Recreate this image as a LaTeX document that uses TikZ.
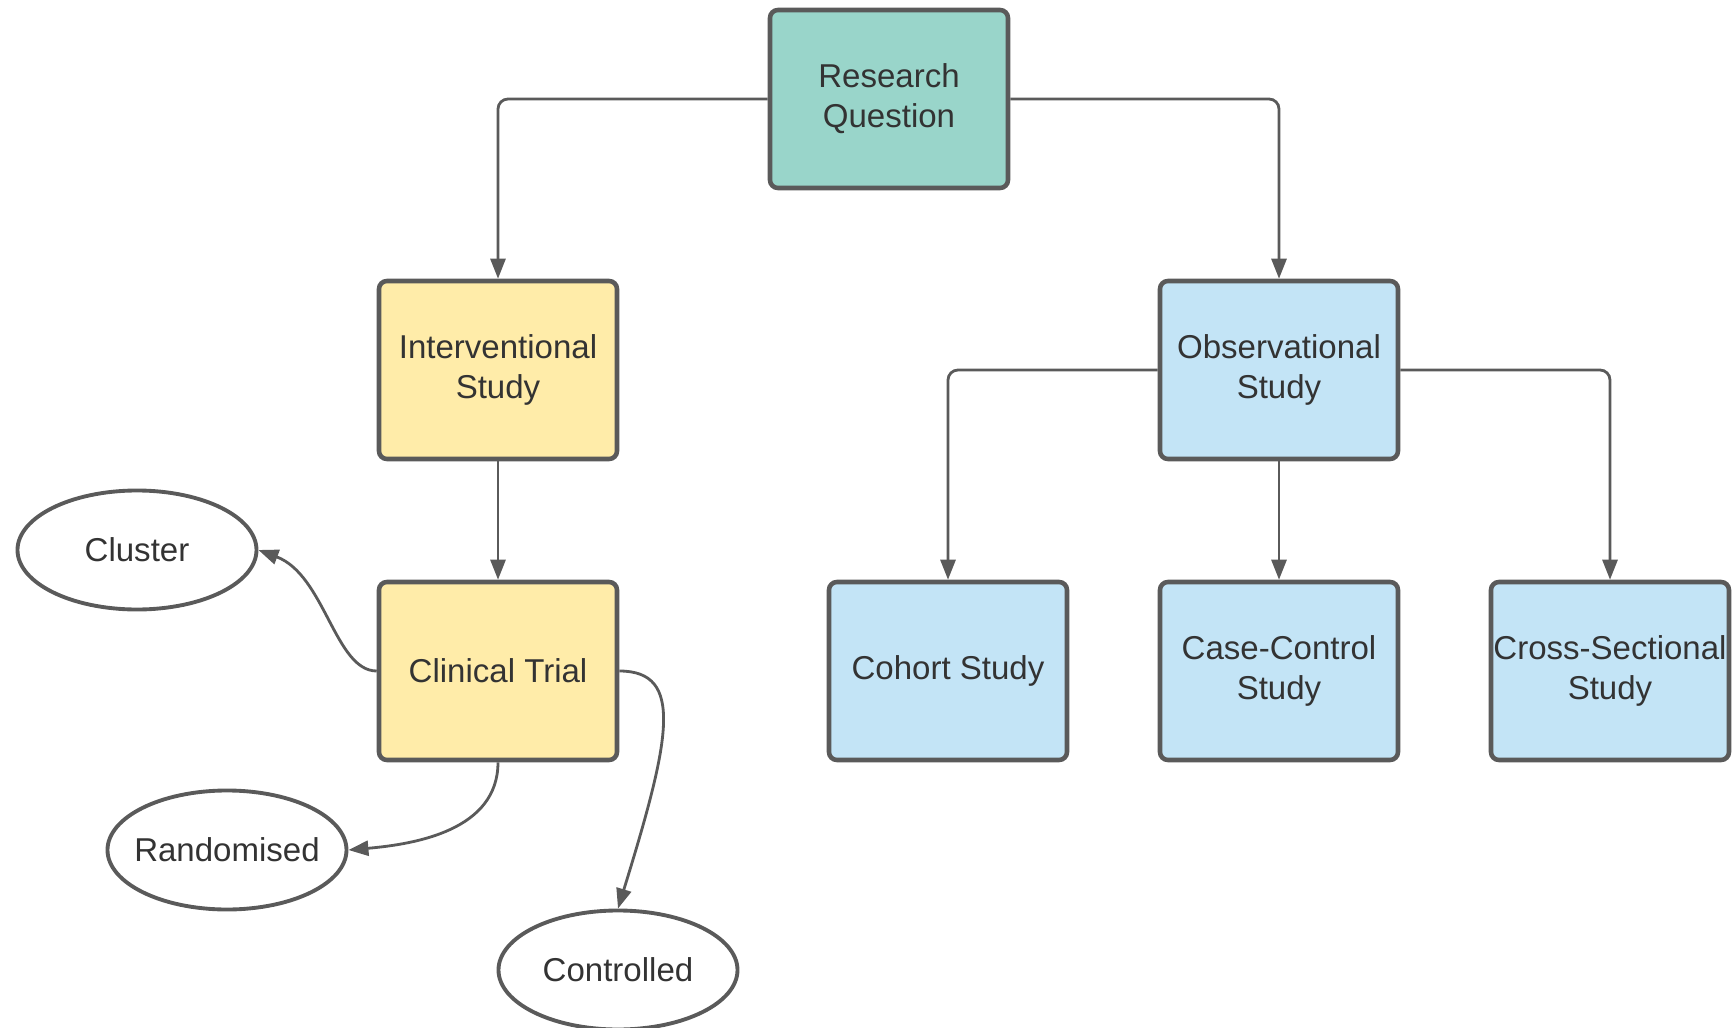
\documentclass[tikz,border=0pt]{standalone}
\usepackage{fontspec}
\setmainfont{Liberation Sans}
\usepackage{tikz}
\usepackage{xcolor}
\usetikzlibrary{shapes.geometric}
\usetikzlibrary{positioning}
\usetikzlibrary{arrows.meta}
\definecolor{edgegray}{HTML}{5A5A5A}
\definecolor{textgray}{HTML}{333333}
\definecolor{tealfill}{HTML}{99D5CA}
\definecolor{yellowfill}{HTML}{FFECA9}
\definecolor{bluefill}{HTML}{C3E4F6}
\tikzstyle{studybox} = [rectangle, rounded corners=0.08cm, minimum width=2.38cm, minimum height=1.78cm, inner sep=0pt, text centered, align=center, draw=edgegray, line width=1.3pt, text=textgray, font=\fontsize{9.4}{11.4}\selectfont]
\tikzstyle{topbox} = [studybox, fill=tealfill]
\tikzstyle{yellowbox} = [studybox, fill=yellowfill]
\tikzstyle{bluebox} = [studybox, fill=bluefill]
\tikzstyle{oval} = [ellipse, minimum width=2.39cm, minimum height=1.19cm, inner xsep=-0.4cm, inner ysep=0pt, draw=edgegray, line width=1.1pt, text=textgray, font=\fontsize{9.4}{11.4}\selectfont]
\tikzstyle{arrow} = [draw=edgegray, line width=0.8pt, -{Triangle[length=0.2cm, width=0.15cm]}]

\begin{document}
\begin{tikzpicture}[node distance=2.71cm]
        \useasboundingbox (0,0) rectangle (17.34,-10.28);
        \node (question) [topbox] at (8.89,-0.99) {Research\\Question};
        \node (interv) [yellowbox, below of=question, xshift=-3.91cm] {Interventional\\Study};
        \node (trial) [yellowbox, below of=interv, yshift=-0.30cm] {Clinical Trial};
        \node (observ) [bluebox, below of=question, xshift=3.90cm] {Observational\\Study};
        \node (cohort) [bluebox, below of=observ, yshift=-0.30cm, xshift=-3.31cm] {Cohort Study};
        \node (casecontrol) [bluebox, below of=observ, yshift=-0.30cm] {Case-Control\\Study};
        \node (crosssec) [bluebox, below of=observ, yshift=-0.30cm, xshift=3.31cm] {Cross-Sectional\\Study};
        \node (cluster) [oval, left of=trial, xshift=-0.90cm, yshift=1.21cm] {Cluster};
        \node (random) [oval, left of=trial, yshift=-1.79cm] {Randomised};
        \node (control) [oval, below of=trial, xshift=1.20cm, yshift=-0.28cm] {Controlled};

        \draw [arrow, rounded corners=0.1cm] (question.west) -| (interv.north);
        \draw [arrow, rounded corners=0.1cm] (question.east) -| (observ.north);
        \draw [arrow] (interv) -- (trial);
        \draw [arrow, rounded corners=0.1cm] (observ.west) -| (cohort.north);
        \draw [arrow] (observ) -- (casecontrol);
        \draw [arrow, rounded corners=0.1cm] (observ.east) -| (crosssec.north);
        \draw [arrow] (trial.west) .. controls (3.35,-6.71) and (3.25,-5.75) .. (cluster.east);
        \draw [arrow] (trial.south) to[out=-90, in=5] (random.east);
        \draw [arrow] (trial.east) .. controls (6.85,-6.71) and (6.70,-7.40) .. (control.north);
    \end{tikzpicture}
\end{document}
